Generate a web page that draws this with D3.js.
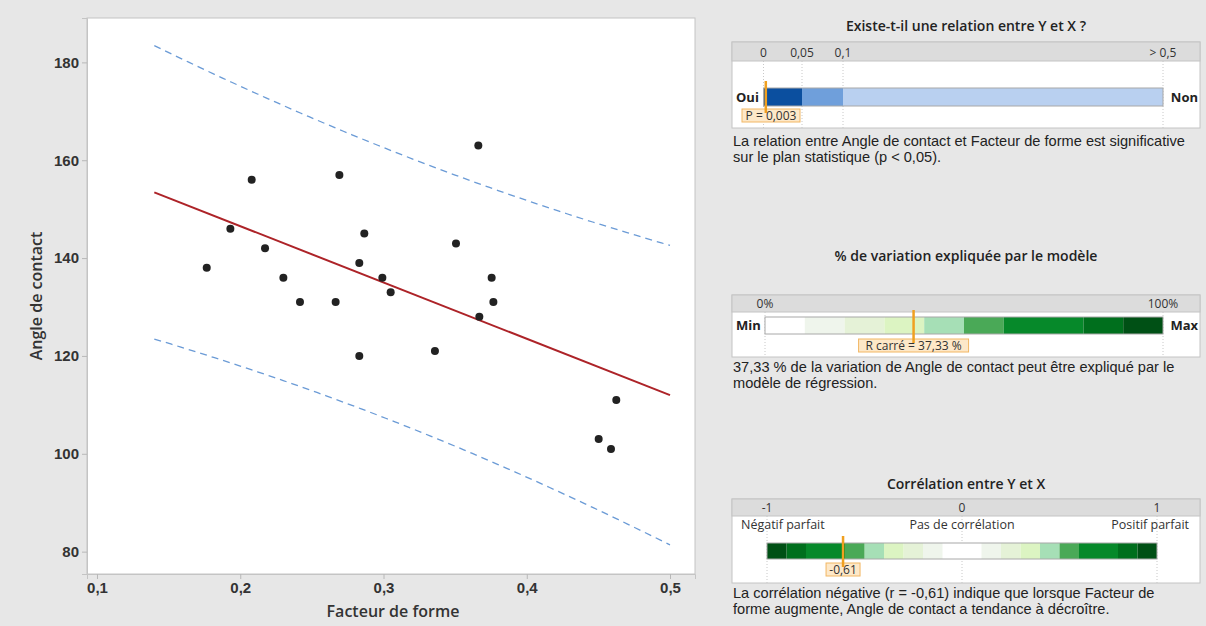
<!DOCTYPE html>
<html><head><meta charset="utf-8">
<script src="https://cdn.jsdelivr.net/npm/d3@7/dist/d3.min.js"></script>
<style>body{margin:0;background:#e6e6e6;}svg{display:block;font-family:"Open Sans","Noto Sans",sans-serif;}</style>
</head><body>
<svg id="c" width="1206" height="626"></svg>
<script>
// ---- data ----
const facteur = [0.1766,0.1931,0.2080,0.2173,0.2301,0.2417,0.2666,0.2692,0.2831,0.2866,0.2831,0.2992,0.3050,0.3662,0.3506,0.3755,0.3767,0.3669,0.3359,0.4625,0.4502,0.4588];
const angle   = [138,146,156,142,136,131,131,157,139,145,120,136,133,163,143,136,131,128,121,111,103,101];
const xTicks = [0.1,0.2,0.3,0.4,0.5];
const yTicks = [80,100,120,140,160,180];
const fitRange = [0.14, 0.5];
const tCrit = 2.086; // t(0.975, 20)

const pValue = 0.003, pLabel = "P = 0,003";
const pTicks = [0, 0.05, 0.1, 0.5];
const pTickLabels = ["0", "0,05", "0,1", "> 0,5"];
const pColors = ["#0b4f9f", "#6f9fdb", "#b9d0f0"];

const rSq = 37.33, rSqLabel = "R carré = 37,33 %";
const rsqTicks = [0, 100], rsqTickLabels = ["0%", "100%"];
const greenBreaks = [0,10,20,30,40,50,60,80,90,100];
const greenColors = ["#ffffff","#eff5ec","#e5f2d7","#dcf4c2","#a6dfb6","#4aa957","#06892a","#006f1d","#005015"];

const rVal = -0.61, rLabel = "-0,61";
const rTicks = [-1, 0, 1], rTickLabels = ["-1", "0", "1"];

const texts = {
  t1: "Existe-t-il une relation entre Y et X ?",
  d1: ["La relation entre Angle de contact et Facteur de forme est significative", "sur le plan statistique (p < 0,05)."],
  t2: "% de variation expliquée par le modèle",
  d2: ["37,33 % de la variation de Angle de contact peut être expliqué par le", "modèle de régression."],
  t3: "Corrélation entre Y et X",
  d3: ["La corrélation négative (r = -0,61) indique que lorsque Facteur de", "forme augmente, Angle de contact a tendance à décroître."]
};

// ---- drawing ----
const svg = d3.select("#c");
svg.append("rect").attr("width",1206).attr("height",626).attr("fill","#e7e7e7");

const L = 87, R = 695, T = 18, B = 574;
const x = d3.scaleLinear().domain([0.09302, 0.51745]).range([L, R]);
const y = d3.scaleLinear().domain([75.43, 189.07]).range([B, T]);

svg.append("rect").attr("x",L).attr("y",T).attr("width",R-L).attr("height",B-T)
  .attr("fill","#fff").attr("stroke","#c4c4c4").attr("stroke-width",1);

const xAxis = svg.append("g").attr("transform",`translate(0,${B})`)
  .call(d3.axisBottom(x).tickValues(xTicks).tickSize(5).tickPadding(3).tickFormat(d => d3.format(".1f")(d).replace(".", ",")));
const yAxis = svg.append("g").attr("transform",`translate(${L},0)`)
  .call(d3.axisLeft(y).tickValues(yTicks).tickSize(5).tickPadding(3));
[xAxis, yAxis].forEach(g => {
  g.select(".domain").attr("stroke","#c4c4c4");
  g.selectAll(".tick line").attr("stroke","#b8b8b8");
  g.selectAll(".tick text").attr("fill","#333").attr("font-size",15).attr("font-weight",600);
});

svg.append("text").attr("x",393).attr("y",617).attr("text-anchor","middle")
  .attr("font-size",16).attr("font-weight",600).attr("fill","#333").text("Facteur de forme");
svg.append("text").attr("transform",`translate(42,${(T+B)/2}) rotate(-90)`).attr("text-anchor","middle")
  .attr("font-size",16).attr("font-weight",600).attr("fill","#333").text("Angle de contact");

// regression
const n = facteur.length;
const mx = d3.mean(facteur), my = d3.mean(angle);
let sxx = 0, sxy = 0, syy = 0;
for (let i = 0; i < n; i++) { const dx = facteur[i]-mx, dy = angle[i]-my; sxx += dx*dx; sxy += dx*dy; syy += dy*dy; }
const slope = sxy/sxx, icpt = my - slope*mx;
const s = Math.sqrt((syy - sxy*sxy/sxx)/(n-2));
const xs = d3.range(fitRange[0], fitRange[1] + 1e-9, (fitRange[1]-fitRange[0])/60);
const hw = v => tCrit * s * Math.sqrt(1 + 1/n + (v-mx)*(v-mx)/sxx);
const ln = d3.line().x(d => x(d[0])).y(d => y(d[1]));

svg.append("path").attr("d", ln(xs.map(v => [v, icpt+slope*v+hw(v)])))
  .attr("fill","none").attr("stroke","#6b9bd6").attr("stroke-width",1.3).attr("stroke-dasharray","7,5");
svg.append("path").attr("d", ln(xs.map(v => [v, icpt+slope*v-hw(v)])))
  .attr("fill","none").attr("stroke","#6b9bd6").attr("stroke-width",1.3).attr("stroke-dasharray","7,5");
svg.append("path").attr("d", ln(fitRange.map(v => [v, icpt+slope*v])))
  .attr("fill","none").attr("stroke","#ad2328").attr("stroke-width",2);

svg.append("g").selectAll("circle").data(facteur.map((v,i)=>[v, angle[i]])).join("circle")
  .attr("cx", d => x(d[0])).attr("cy", d => y(d[1])).attr("r", 4).attr("fill","#222");

// ---- right panels ----
const BX0 = 732, BX1 = 1200;
function panel(cfg) {
  const g = svg.append("g");
  g.append("text").attr("x",966).attr("y",cfg.titleY).attr("text-anchor","middle")
    .attr("font-size",14).attr("font-weight",600).attr("fill","#222").text(cfg.title);
  g.append("rect").attr("x",BX0).attr("y",cfg.top).attr("width",BX1-BX0).attr("height",cfg.bottom-cfg.top)
    .attr("fill","#fff").attr("stroke","#c4c4c4");
  g.append("rect").attr("x",BX0).attr("y",cfg.top).attr("width",BX1-BX0).attr("height",cfg.head-cfg.top)
    .attr("fill","#dcdcdc").attr("stroke","#c4c4c4");
  cfg.ticks.forEach((t,i) => {
    g.append("line").attr("x1",cfg.scale(t)).attr("x2",cfg.scale(t)).attr("y1",cfg.head).attr("y2",cfg.bottom)
      .attr("stroke","#c8c8c8").attr("stroke-dasharray","1,2");
    g.append("text").attr("x",cfg.scale(t)).attr("y",cfg.head-4).attr("text-anchor","middle")
      .attr("font-size",12).attr("fill","#333").text(cfg.tickLabels[i]);
  });
  cfg.segs.forEach(sg => {
    g.append("rect").attr("x",cfg.scale(sg[0])).attr("y",cfg.barY).attr("width",cfg.scale(sg[1])-cfg.scale(sg[0]))
      .attr("height",cfg.barH).attr("fill",sg[2]);
  });
  const b0 = cfg.scale(cfg.ticks[0]), b1 = cfg.scale(cfg.ticks[cfg.ticks.length-1]);
  g.append("rect").attr("x",b0).attr("y",cfg.barY).attr("width",b1-b0).attr("height",cfg.barH)
    .attr("fill","none").attr("stroke","#a8a8a8");
  if (cfg.ends) {
    g.append("text").attr("x",736).attr("y",cfg.barY+cfg.barH/2).attr("dy","0.35em")
      .attr("font-size",13).attr("font-weight",700).attr("fill","#222").text(cfg.ends[0]);
    g.append("text").attr("x",1198).attr("y",cfg.barY+cfg.barH/2).attr("dy","0.35em").attr("text-anchor","end")
      .attr("font-size",13).attr("font-weight",700).attr("fill","#222").text(cfg.ends[1]);
  }
  const mxp = cfg.scale(cfg.value);
  const lw = cfg.labelW;
  const lx = Math.max(cfg.labelMin, mxp - lw/2);
  g.append("rect").attr("x",lx).attr("y",cfg.labelY).attr("width",lw).attr("height",13)
    .attr("fill","#fde8c8").attr("stroke","#f2b764");
  g.append("text").attr("x",lx+lw/2).attr("y",cfg.labelY+10.5).attr("text-anchor","middle")
    .attr("font-size",12).attr("fill","#333").text(cfg.label);
  g.append("line").attr("x1",mxp).attr("x2",mxp).attr("y1",cfg.barY-7).attr("y2",cfg.labelY+ (cfg.markBelow||4))
    .attr("stroke","#f0a020").attr("stroke-width",2.5);
  cfg.desc.forEach((t,i) => {
    g.append("text").attr("x",BX0+1).attr("y",cfg.descY + i*16.4).attr("font-size",14.6)
      .attr("font-family","'Liberation Sans', Arial, sans-serif").attr("fill","#222").text(t);
  });
  return g;
}

const pScale = d3.scaleLinear().domain(pTicks).range([763.5, 802, 843, 1163]);
panel({
  title: texts.t1, titleY: 31, top: 42, head: 61, bottom: 128,
  scale: pScale, ticks: pTicks, tickLabels: pTickLabels,
  segs: [[pTicks[0],pTicks[1],pColors[0]],[pTicks[1],pTicks[2],pColors[1]],[pTicks[2],pTicks[3],pColors[2]]],
  barY: 88, barH: 18, ends: ["Oui","Non"],
  value: pValue, label: pLabel, labelW: 58, labelMin: 742, labelY: 109,
  desc: texts.d1, descY: 146
});

const rsqScale = d3.scaleLinear().domain(rsqTicks).range([765, 1163]);
panel({
  title: texts.t2, titleY: 261, top: 295, head: 312, bottom: 357,
  scale: rsqScale, ticks: rsqTicks, tickLabels: rsqTickLabels,
  segs: greenColors.map((c,i) => [greenBreaks[i], greenBreaks[i+1], c]),
  barY: 317, barH: 17, ends: ["Min","Max"],
  value: rSq, label: rSqLabel, labelW: 110, labelMin: 742, labelY: 339,
  desc: texts.d2, descY: 372
});

const rScale = d3.scaleLinear().domain([-1, 1]).range([767, 1157]);
const corrSegs = [];
greenColors.forEach((c,i) => {
  corrSegs.push([-greenBreaks[i+1]/100, -greenBreaks[i]/100, c]);
  corrSegs.push([greenBreaks[i]/100, greenBreaks[i+1]/100, c]);
});
const pg = panel({
  title: texts.t3, titleY: 489, top: 499, head: 516, bottom: 583,
  scale: rScale, ticks: rTicks, tickLabels: rTickLabels,
  segs: corrSegs,
  barY: 543, barH: 16, ends: null,
  value: rVal, label: rLabel, labelW: 34, labelMin: 742, labelY: 563,
  desc: texts.d3, descY: 598
});
pg.append("text").attr("x",741).attr("y",529).attr("font-size",12.5).attr("fill","#333").text("Négatif parfait");
pg.append("text").attr("x",rScale(0)).attr("y",529).attr("text-anchor","middle").attr("font-size",12.5).attr("fill","#333").text("Pas de corrélation");
pg.append("text").attr("x",1189).attr("y",529).attr("text-anchor","end").attr("font-size",12.5).attr("fill","#333").text("Positif parfait");
</script>
</body></html>
